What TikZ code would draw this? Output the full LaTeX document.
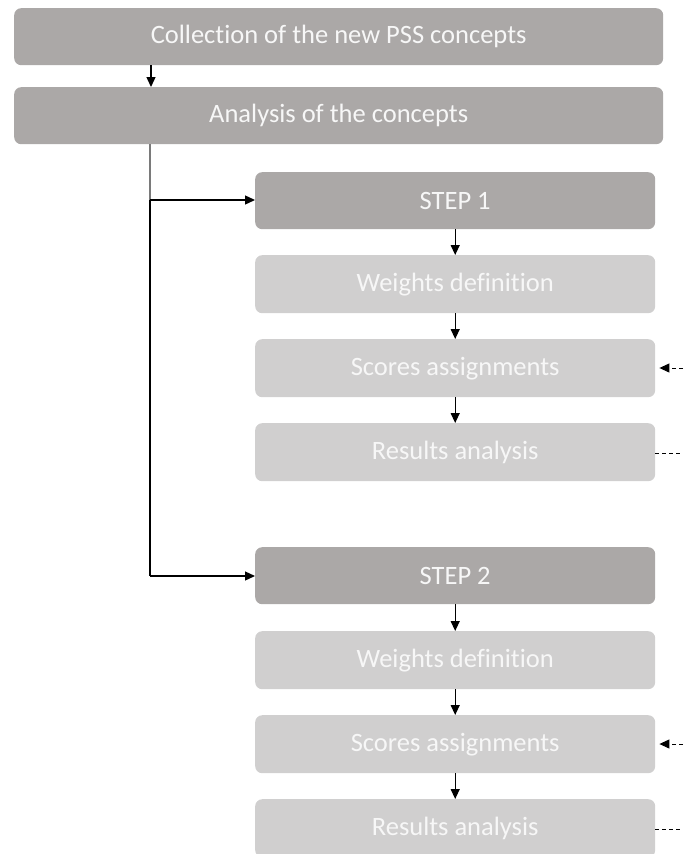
\documentclass[tikz,border=0pt]{standalone}
\usepackage{fontspec}
\setmainfont[Ligatures={NoCommon}]{Carlito}
\usetikzlibrary{arrows.meta,calc}
\definecolor{boxdark}{HTML}{ABA8A7}
\definecolor{boxlight}{HTML}{D0CFCF}
\definecolor{boxtext}{HTML}{F7F7F7}
\definecolor{stemgray}{HTML}{7A7A7A}
\begin{document}
\begin{tikzpicture}[x=1pt,y=-1pt,
  box/.style={rectangle,rounded corners=7pt,draw=none,text=boxtext,
    font=\fontsize{26.5}{30}\selectfont,anchor=north west,inner sep=0pt},
  topbox/.style={box,fill=boxdark,minimum width=649pt,minimum height=57pt},
  stepbox/.style={box,fill=boxdark,minimum width=400pt,minimum height=57pt},
  subbox/.style={box,fill=boxlight,minimum width=400pt,minimum height=58pt},
  tip/.style={-{Triangle[length=10pt,width=9pt]}},
  link/.style={line width=1.3pt,tip},
  dlink/.style={line width=1pt,dash pattern=on 4pt off 3pt}]
\useasboundingbox (0,0) rectangle (683,854);
\begin{scope}
\clip (0,0) rectangle (683,854);
% top of the flow
\node[topbox] (coll) at (14,8) {Collection of the new PSS concepts};
\node[topbox] (ana) at (14,87) {Analysis of the concepts};
% first step
\node[stepbox] (s1) at (255,172) {STEP 1};
\node[subbox] (w1) at (255,255) {Weights definition};
\node[subbox] (a1) at (255,339) {Scores assignments};
\node[subbox] (r1) at (255,423) {Results analysis};
% second step
\node[stepbox] (s2) at (255,547) {STEP 2};
\node[subbox] (w2) at (255,631) {Weights definition};
\node[subbox] (a2) at (255,715) {Scores assignments};
\node[subbox] (r2) at (255,799) {Results analysis};
% branch points
\coordinate (j1) at (150,200);
\coordinate (j2) at (150,576);
\coordinate (e1a) at (683,368);
\coordinate (e1r) at (683,453);
\coordinate (e2a) at (683,744);
\coordinate (e2r) at (683,829);
% connectors
\coordinate (c0) at ($(coll.south west)+(137,0)$);
\draw[link] (c0) -- (c0 |- ana.north);
\draw[line width=1.3pt,draw=stemgray] (ana.south -| j1) -- (j1);
\draw[link] (j1) -- (j1 -| s1.west);
\draw[line width=1.3pt] (j1) -- (j2);
\draw[link] (j2) -- (j2 -| s2.west);
\draw[link] (s1) -- (w1);
\draw[link] (w1) -- (a1);
\draw[link] (a1) -- (r1);
\draw[link] (s2) -- (w2);
\draw[link] (w2) -- (a2);
\draw[link] (a2) -- (r2);
% dashed feedback ends
\draw[dlink,tip] (e1a) -- ($(e1a -| a1.east)+(4,0)$);
\draw[dlink] (r1.east |- e1r) -- (e1r);
\draw[dlink,tip] (e2a) -- ($(e2a -| a2.east)+(4,0)$);
\draw[dlink] (r2.east |- e2r) -- (e2r);
\end{scope}
\end{tikzpicture}
\end{document}
